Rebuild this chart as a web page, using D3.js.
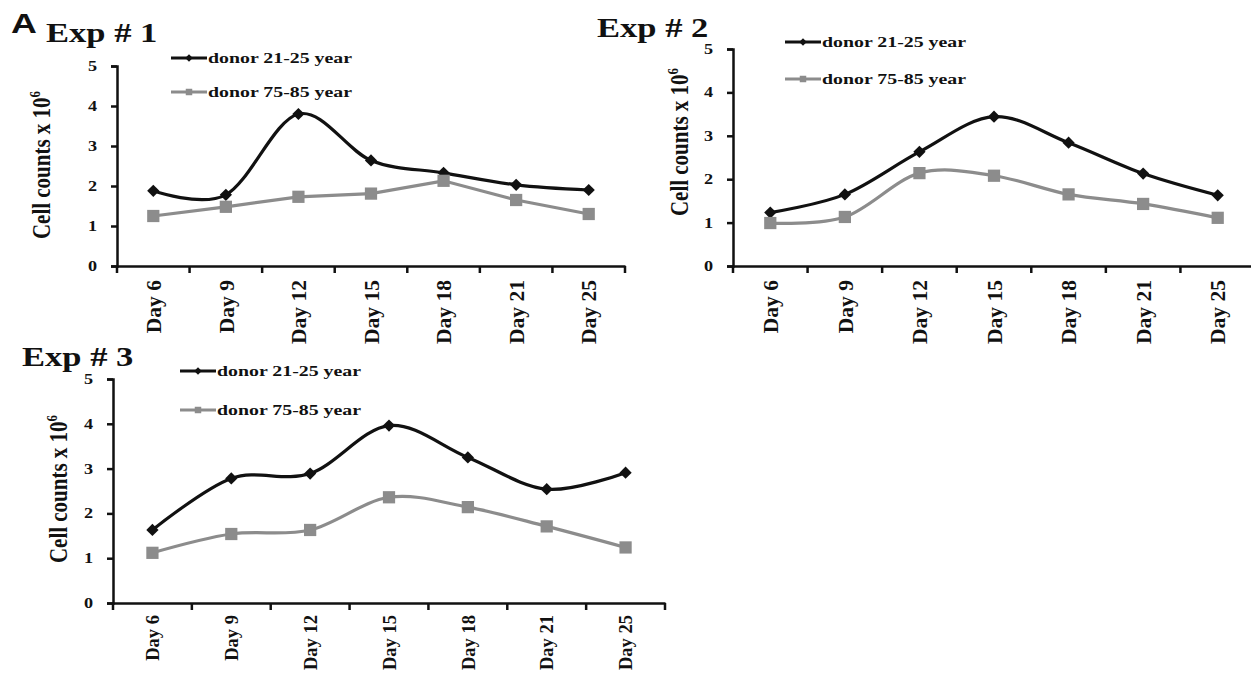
<!DOCTYPE html>
<html>
<head>
<meta charset="utf-8">
<script src="https://cdn.jsdelivr.net/npm/d3@7"></script>
<style>
  body { margin: 0; background: #fff; }
  svg { display: block; }
  text { font-family: "Liberation Serif", "Times New Roman", serif; font-weight: bold; fill: #111; }
  text.letter { font-family: "Liberation Sans", Arial, sans-serif; }
</style>
</head>
<body>
<svg id="chart" width="1251" height="673"></svg>
<script>
// Harvest days and cell counts (x 10^6) per experiment
const days = ["Day 6", "Day 9", "Day 12", "Day 15", "Day 18", "Day 21", "Day 25"];
const yTicks = [0, 1, 2, 3, 4, 5];
const seriesLabels = ["donor 21-25 year", "donor 75-85 year"];
const panelTitles = ["Exp # 1", "Exp # 2", "Exp # 3"];

const exp1Young = [1.88, 1.78, 3.80, 2.64, 2.33, 2.03, 1.90];
const exp1Old   = [1.25, 1.48, 1.73, 1.81, 2.13, 1.65, 1.30];
const exp2Young = [1.23, 1.65, 2.63, 3.44, 2.84, 2.13, 1.63];
const exp2Old   = [0.99, 1.13, 2.14, 2.08, 1.65, 1.43, 1.11];
const exp3Young = [1.63, 2.78, 2.89, 3.96, 3.25, 2.54, 2.91];
const exp3Old   = [1.12, 1.54, 1.63, 2.36, 2.14, 1.71, 1.24];

const svg = d3.select("#chart");
svg.append("rect").attr("width", 1251).attr("height", 673).attr("fill", "#fff");

const BLACK = "#111";
const GREY = "#8c8c8c";
const SX = 1.28; // horizontal widening of the lettering

function wideText(g, x, y, str, size, cls) {
  return g.append("text")
    .attr("class", cls || null)
    .attr("transform", `translate(${x},${y}) scale(${SX},1)`)
    .attr("font-size", size)
    .text(str);
}

const smooth = d3.curveCardinal.tension(0);

const panels = [
  { title: panelTitles[0], young: exp1Young, old: exp1Old, oldCurve: d3.curveLinear,
    x0: 117, x1: 625, yTop: 66, yBot: 266, daySize: 21.5, dayGap: 14,
    titleX: 46, titleY: 42, legX: 171, legY: [58, 92], yTitleX: 50, yTitleY: 165 },
  { title: panelTitles[1], young: exp2Young, old: exp2Old, oldCurve: smooth,
    x0: 733, x1: 1255, yTop: 49, yBot: 266, daySize: 21.5, dayGap: 14,
    titleX: 597, titleY: 37, legX: 785, legY: [42, 79], yTitleX: 688, yTitleY: 142 },
  { title: panelTitles[2], young: exp3Young, old: exp3Old, oldCurve: smooth,
    x0: 113, x1: 665, yTop: 379, yBot: 603, daySize: 18.5, dayGap: 12,
    titleX: 22, titleY: 366, legX: 180, legY: [371, 410], yTitleX: 67, yTitleY: 489 }
];

// panel letter
wideText(svg, 11, 33, "A", 28, "letter");

const marker = size => d3.symbol(d3.symbolSquare, size)();
const TICK = 6, PAD = 14;

panels.forEach(p => {
  const g = svg.append("g");
  const x = d3.scaleBand().domain(days).range([p.x0, p.x1]);
  const y = d3.scaleLinear().domain([0, 5]).range([p.yBot, p.yTop]);
  const cx = d => x(d) + x.bandwidth() / 2;

  // y axis
  const ya = g.append("g").attr("transform", `translate(${p.x0},0)`)
    .call(d3.axisLeft(y).tickValues(yTicks).tickSize(TICK).tickPadding(PAD).tickFormat(d3.format("d")));
  ya.select(".domain").attr("stroke", BLACK).attr("stroke-width", 2.5);
  ya.selectAll(".tick line").attr("stroke", BLACK).attr("stroke-width", 2.5);
  ya.selectAll(".tick text").attr("font-size", 14).attr("font-family", null).attr("fill", "#111")
    .attr("x", null)
    .attr("transform", `translate(${-(TICK + PAD)},0) scale(1.3,1)`);

  // x axis with tick marks between the days
  const xa = g.append("g").attr("transform", `translate(0,${p.yBot})`)
    .call(d3.axisBottom(x).tickSize(0).tickPadding(0).tickFormat(""));
  xa.select(".domain").attr("stroke", BLACK).attr("stroke-width", 2.5);
  const bounds = days.map(d => x(d)).concat([x.range()[1]]);
  g.selectAll(".xtick").data(bounds).join("line")
    .attr("x1", d => d).attr("x2", d => d)
    .attr("y1", p.yBot).attr("y2", p.yBot + 7)
    .attr("stroke", BLACK).attr("stroke-width", 2.5);
  g.selectAll(".xlab").data(days).join("text")
    .attr("transform", d => `translate(${cx(d) + p.daySize * 0.36},${p.yBot + p.dayGap}) rotate(-90)`)
    .attr("text-anchor", "end")
    .attr("font-size", p.daySize)
    .text(d => d);

  // y axis title
  const yt = g.append("text")
    .attr("transform", `translate(${p.yTitleX},${p.yTitleY}) rotate(-90) scale(1,1.2)`)
    .attr("text-anchor", "middle")
    .attr("font-size", 21);
  yt.append("tspan").text("Cell counts x 10");
  yt.append("tspan").attr("font-size", 13).attr("dy", -8).text("6");

  // title
  wideText(g, p.titleX, p.titleY, p.title, 27);

  // series
  const series = [
    { vals: p.young, color: BLACK, curve: smooth, sym: 75, rot: 45, legSym: 28 },
    { vals: p.old, color: GREY, curve: p.oldCurve, sym: 150, rot: 0, legSym: 42 }
  ];
  series.forEach((s, i) => {
    const line = d3.line().x((v, j) => cx(days[j])).y(v => y(v)).curve(s.curve);
    g.append("path").attr("d", line(s.vals)).attr("fill", "none")
      .attr("stroke", s.color).attr("stroke-width", 3.2);
    g.selectAll(null).data(s.vals).join("path")
      .attr("d", marker(s.sym))
      .attr("transform", (v, j) => `translate(${cx(days[j])},${y(v)}) rotate(${s.rot})`)
      .attr("fill", s.color);

    // legend entry
    const ly = p.legY[i];
    g.append("line").attr("x1", p.legX).attr("x2", p.legX + 36)
      .attr("y1", ly).attr("y2", ly).attr("stroke", s.color).attr("stroke-width", 3);
    g.append("path").attr("d", marker(s.legSym))
      .attr("transform", `translate(${p.legX + 18},${ly}) rotate(${s.rot})`)
      .attr("fill", s.color);
    wideText(g, p.legX + 37, ly + 5, seriesLabels[i], 15.5);
  });
});
</script>
</body>
</html>
